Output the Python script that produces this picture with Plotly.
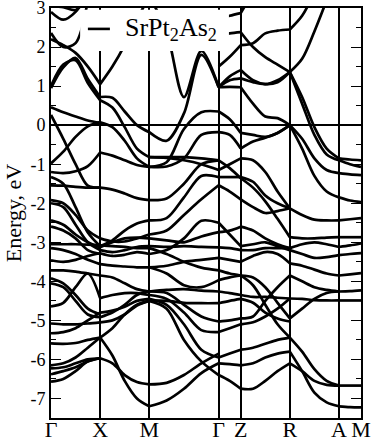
import plotly.graph_objects as go

# ---------------- K PATH ----------------
kpt_names = ["Γ", "X", "M", "Γ", "Z", "R", "A", "M"]
kpt_pos = [0.0, 1.0, 2.0, 3.414, 3.863, 4.863, 5.863, 6.312]

# sample grid along the path (3 interior points on long legs, 1 on the short ones)
K = [0.0, 0.25, 0.5, 0.75, 1.0, 1.25, 1.5, 1.75, 2.0, 2.354, 2.707, 3.061, 3.414,
     3.639, 3.863, 4.113, 4.363, 4.613, 4.863, 5.113, 5.363, 5.613, 5.863, 6.088, 6.312]

# ---------------- BANDS (eV), one list per line, per path segment ----------------
seg_GX = [
    [3.05, 3.02, 2.95, 3.3, None],
    [2.9, 2.7, 2.9, 3.4, None],
    [2.36, 2.0, 2.1, 3.2, None],
    [2.2, 2.05, 1.85, 1.5, 1.05],
    [1.0, 1.55, 1.66, 1.08, 0.64],
    [0.95, 1.48, 1.72, 1.18, 0.72],
    [0.46, 0.33, 0.22, 0.12, 0.06],
    [0.26, -0.35, -1.0, -1.55, -1.6],
    [-0.98, -0.68, -0.3, -0.03, 0.08],
    [-1.2, -1.23, -1.18, -1.05, -0.7],
    [-1.54, -1.55, -1.58, -1.6, -1.6],
    [-1.33, -1.5, -2.1, -2.75, -3.1],
    [-1.92, -2.0, -2.3, -2.7, -2.9],
    [-2.0, -2.1, -2.55, -3.0, -3.2],
    [-2.44, -2.55, -2.8, -3.0, -3.13],
    [-2.6, -2.7, -2.9, -3.2, -3.3],
    [-3.05, -3.05, -3.05, -3.06, -3.08],
    [-3.15, -3.2, -3.3, -3.45, -3.56],
    [-3.46, -3.5, -3.45, -3.35, -3.28],
    [-3.72, -3.72, -3.75, -3.8, -3.85],
    [-3.92, -4.05, -4.35, -4.7, -4.85],
    [-4.05, -4.15, -4.5, -4.85, -4.92],
    [-4.64, -4.55, -4.15, -3.8, -4.43],
    [-5.08, -5.1, -5.1, -5.08, -5.05],
    [-5.33, -5.3, -5.2, -5.0, -4.8],
    [-5.59, -5.6, -5.58, -5.5, -5.44],
    [-6.15, -6.1, -5.95, -5.7, -5.44],
    [-6.23, -6.2, -6.1, -6.0, -5.97],
    [-6.38, -6.3, -6.2, -6.05, -5.97],
    [-6.57, -6.5, -6.3, -6.05, -5.97],
]

seg_XM = [
    [1.05, 1.5, 2.05, 2.7, 3.3],
    [0.72, 0.7, 0.35, 0.0, -0.18],
    [0.64, 0.45, -0.05, -0.6, -0.82],
    [0.07, -0.05, -0.4, -0.85, -1.07],
    [-0.7, -0.78, -0.9, -1.02, -1.07],
    [-1.6, -1.65, -1.75, -1.87, -1.92],
    [-2.9, -2.98, -2.98, -2.9, -2.8],
    [-3.1, -2.95, -2.7, -2.52, -2.44],
    [-3.13, -3.0, -2.9, -2.88, -2.9],
    [-3.2, -3.25, -3.2, -3.12, -3.1],
    [-3.28, -3.35, -3.32, -3.25, -3.3],
    [-3.08, -3.1, -3.12, -3.15, -3.15],
    [-3.56, -3.6, -3.62, -3.64, -3.64],
    [-3.85, -3.9, -4.05, -4.2, -4.26],
    [-4.43, -4.35, -4.3, -4.3, -4.35],
    [-4.8, -4.75, -4.65, -4.5, -4.45],
    [-4.92, -4.8, -4.6, -4.35, -4.26],
    [-5.05, -5.0, -4.85, -4.62, -4.5],
    [-5.44, -5.2, -4.85, -4.6, -4.5],
    [-5.44, -5.9, -6.55, -7.0, -7.2],
    [-5.97, -6.1, -6.4, -6.58, -6.64],
]

seg_MG = [
    [3.3, 2.4, 0.72, 1.9, 0.97],
    [-0.18, -0.4, 0.3, 1.8, 0.97],
    [-1.07, -0.95, -0.1, 0.33, 0.35],
    [-1.07, -1.06, -0.85, -0.25, -0.18],
    [-0.82, -0.84, -0.9, -1.0, -1.15],
    [-0.82, -0.82, -0.82, -0.85, -0.9],
    [-1.92, -1.88, -1.5, -1.0, -0.9],
    [-2.44, -2.38, -1.85, -1.3, -1.33],
    [-2.8, -2.7, -2.3, -1.9, -1.54],
    [-2.9, -2.95, -3.0, -2.85, -2.74],
    [-3.1, -3.12, -3.1, -3.12, -3.13],
    [-3.3, -3.2, -2.9, -2.45, -2.5],
    [-3.15, -3.3, -3.5, -3.65, -3.72],
    [-3.64, -3.6, -3.5, -3.45, -3.4],
    [-3.64, -3.8, -4.1, -4.15, -3.97],
    [-4.26, -4.22, -4.2, -4.24, -4.26],
    [-4.5, -4.5, -4.55, -4.56, -4.56],
    [-4.26, -4.3, -4.6, -4.9, -5.03],
    [-4.35, -4.45, -4.8, -5.25, -5.3],
    [-4.45, -4.6, -5.1, -5.75, -5.95],
    [-4.5, -4.7, -5.5, -6.05, -6.4],
    [-6.64, -6.6, -6.4, -6.1, -5.85],
    [-7.2, -7.05, -6.75, -6.35, -6.1],
]

seg_GZ = [
    [2.7, 2.8, 2.87],
    [2.3, 2.35, 2.38],
    [1.5, 1.75, 2.05],
    [0.97, 0.98, 0.97],
    [0.97, 1.25, 1.41],
    [0.97, 1.15, 1.2],
    [0.35, 0.15, -0.2],
    [-0.18, -0.25, -0.6],
    [-0.9, -1.1, -1.36],
    [-1.15, -1.0, -0.85],
    [-1.33, -1.33, -1.33],
    [-1.54, -1.7, -1.9],
    [-2.5, -2.8, -3.1],
    [-2.74, -2.7, -2.6],
    [-3.13, -3.15, -3.2],
    [-3.4, -3.45, -3.5],
    [-3.72, -3.8, -3.85],
    [-3.97, -3.9, -3.85],
    [-4.26, -4.3, -4.35],
    [-4.56, -4.5, -4.45],
    [-5.03, -5.0, -4.95],
    [-5.3, -5.2, -5.1],
    [-5.95, -5.85, -5.75],
    [-6.1, -6.12, -6.15],
    [-6.4, -6.55, -6.75],
]

seg_ZR = [
    [2.87, 3.4, None, None, None],
    [2.05, 2.1, 2.35, 2.42, 2.45],
    [2.38, 2.0, 1.74, 1.55, 1.36],
    [1.41, 1.15, 1.05, 1.1, 1.36],
    [1.2, 1.1, 1.05, 1.15, 1.36],
    [0.97, 0.55, 0.22, 0.18, 0.0],
    [-0.2, -0.25, -0.3, -0.2, 0.0],
    [-0.6, -0.42, -0.32, -0.2, 0.0],
    [-0.85, -0.9, -1.2, -1.7, -2.13],
    [-1.36, -1.6, -1.95, -2.4, -2.87],
    [-1.9, -2.1, -2.25, -2.2, -2.13],
    [-1.33, -1.45, -1.8, -2.0, -2.13],
    [-2.6, -2.7, -2.9, -3.05, -3.15],
    [-3.1, -3.05, -3.0, -3.1, -3.2],
    [-3.2, -3.2, -3.15, -3.15, -3.15],
    [-3.5, -3.35, -3.25, -3.3, -3.54],
    [-3.85, -3.9, -4.15, -4.55, -4.95],
    [-3.85, -4.1, -4.6, -5.1, -5.44],
    [-4.95, -4.9, -4.5, -4.15, -3.85],
    [-4.35, -4.4, -4.4, -4.42, -4.44],
    [-4.45, -4.55, -4.8, -4.95, -5.03],
    [-5.1, -5.05, -4.9, -4.7, -4.44],
    [-5.75, -5.7, -5.6, -5.5, -5.44],
    [-6.15, -6.1, -5.95, -5.85, -5.8],
    [-6.75, -6.75, -6.55, -6.3, -6.1],
]

seg_RA = [
    [2.45, 2.8, 3.4, None, None],
    [1.36, 1.7, 2.4, 3.2, None],
    [1.36, 0.72, -0.05, -0.6, -0.85],
    [1.36, 0.55, -0.25, -0.75, -0.9],
    [0.0, -0.35, -0.85, -1.15, -1.23],
    [0.0, -0.6, -1.3, -1.7, -1.85],
    [-2.13, -2.3, -2.42, -2.44, -2.44],
    [-2.87, -2.9, -2.9, -2.88, -2.87],
    [-3.15, -3.05, -3.0, -3.05, -3.12],
    [-3.2, -3.3, -3.4, -3.38, -3.33],
    [-3.54, -3.6, -3.7, -3.8, -3.85],
    [-3.85, -4.0, -4.15, -4.22, -4.26],
    [-4.44, -4.45, -4.48, -4.49, -4.49],
    [-4.95, -4.7, -4.45, -4.3, -4.26],
    [-5.44, -5.8, -6.25, -6.55, -6.67],
    [-5.8, -6.3, -6.85, -7.1, -7.2],
    [-6.1, -6.3, -6.55, -6.65, -6.67],
]

seg_AM = [
    [-0.85, -0.88, -0.9],
    [-0.9, -1.0, -1.07],
    [-1.23, -1.26, -1.28],
    [-1.85, -1.93, -1.97],
    [-2.44, -2.41, -2.38],
    [-2.87, -2.87, -2.87],
    [-3.12, -3.08, -3.03],
    [-3.33, -3.3, -3.28],
    [-3.85, -3.82, -3.79],
    [-4.26, -4.25, -4.23],
    [-4.49, -4.49, -4.49],
    [-6.67, -6.67, -6.67],
    [-7.2, -7.22, -7.23],
]

# first grid index of each segment
segments = [(0, seg_GX), (4, seg_XM), (8, seg_MG), (12, seg_GZ),
            (14, seg_ZR), (18, seg_RA), (22, seg_AM)]

y_ticks = [3, 2, 1, 0, -1, -2, -3, -4, -5, -6, -7]

serif = "Liberation Serif, Times New Roman, serif"

fig = go.Figure()
for start, lines in segments:
    for e in lines:
        fig.add_trace(go.Scatter(
            x=K[start:start + len(e)], y=e, mode="lines", showlegend=False, hoverinfo="skip",
            line=dict(color="black", width=2.7, shape="spline", smoothing=0.9)))

fig.update_layout(
    width=374, height=442,
    margin=dict(l=51, r=13, t=8, b=24),
    paper_bgcolor="white", plot_bgcolor="white",
    font=dict(family=serif, color="black"),
)

fig.update_xaxes(
    range=[0, kpt_pos[-1]], tickvals=kpt_pos, ticktext=kpt_names, automargin=False,
    tickfont=dict(size=22, family=serif, color="black"), ticks="",
    ticklabeloverflow="allow", ticklabelstandoff=-9,
    showgrid=True, gridcolor="black", gridwidth=1.6,
    showline=True, linecolor="black", linewidth=2, mirror=True, zeroline=False,
)
fig.update_yaxes(
    range=[-7.5, 3], tickvals=y_ticks, ticktext=[str(t) for t in y_ticks], automargin=False,
    tickfont=dict(size=18, family=serif, color="black"), ticklabeloverflow="allow",
    ticks="inside", ticklen=10, tickwidth=1.4, tickcolor="black",
    minor=dict(dtick=0.5, ticks="inside", ticklen=5, tickwidth=1.2, tickcolor="black"),
    showgrid=False, showline=True, linecolor="black", linewidth=2, mirror="allticks",
    zeroline=True, zerolinecolor="black", zerolinewidth=1.6,
)

# y-axis title
fig.add_annotation(xref="paper", yref="paper", x=-0.122, y=0.5, xanchor="center", yanchor="middle",
                   text="Energy, eV", textangle=-90, showarrow=False,
                   font=dict(size=22, family=serif, color="black"))

# ---------------- LEGEND BOX ----------------
fig.add_shape(type="rect", xref="paper", yref="paper", x0=0.094, x1=0.574, y0=0.895, y1=0.996,
              fillcolor="white", line=dict(width=0), layer="above")
fig.add_shape(type="line", xref="paper", yref="paper", x0=0.119, x1=0.19, y0=0.949, y1=0.949,
              line=dict(color="black", width=2.6), layer="above")
fig.add_annotation(xref="paper", yref="paper", x=0.232, y=0.949, xanchor="left", yanchor="middle",
                   text="SrPt<sub>2</sub>As<sub>2</sub>", showarrow=False,
                   font=dict(size=26, family=serif, color="black"))

# page body has a default margin; drop it so the figure sits at the window corner
fig.write_html("out.html", config={"displayModeBar": False},
               post_script="document.body.style.margin = '0px';")
